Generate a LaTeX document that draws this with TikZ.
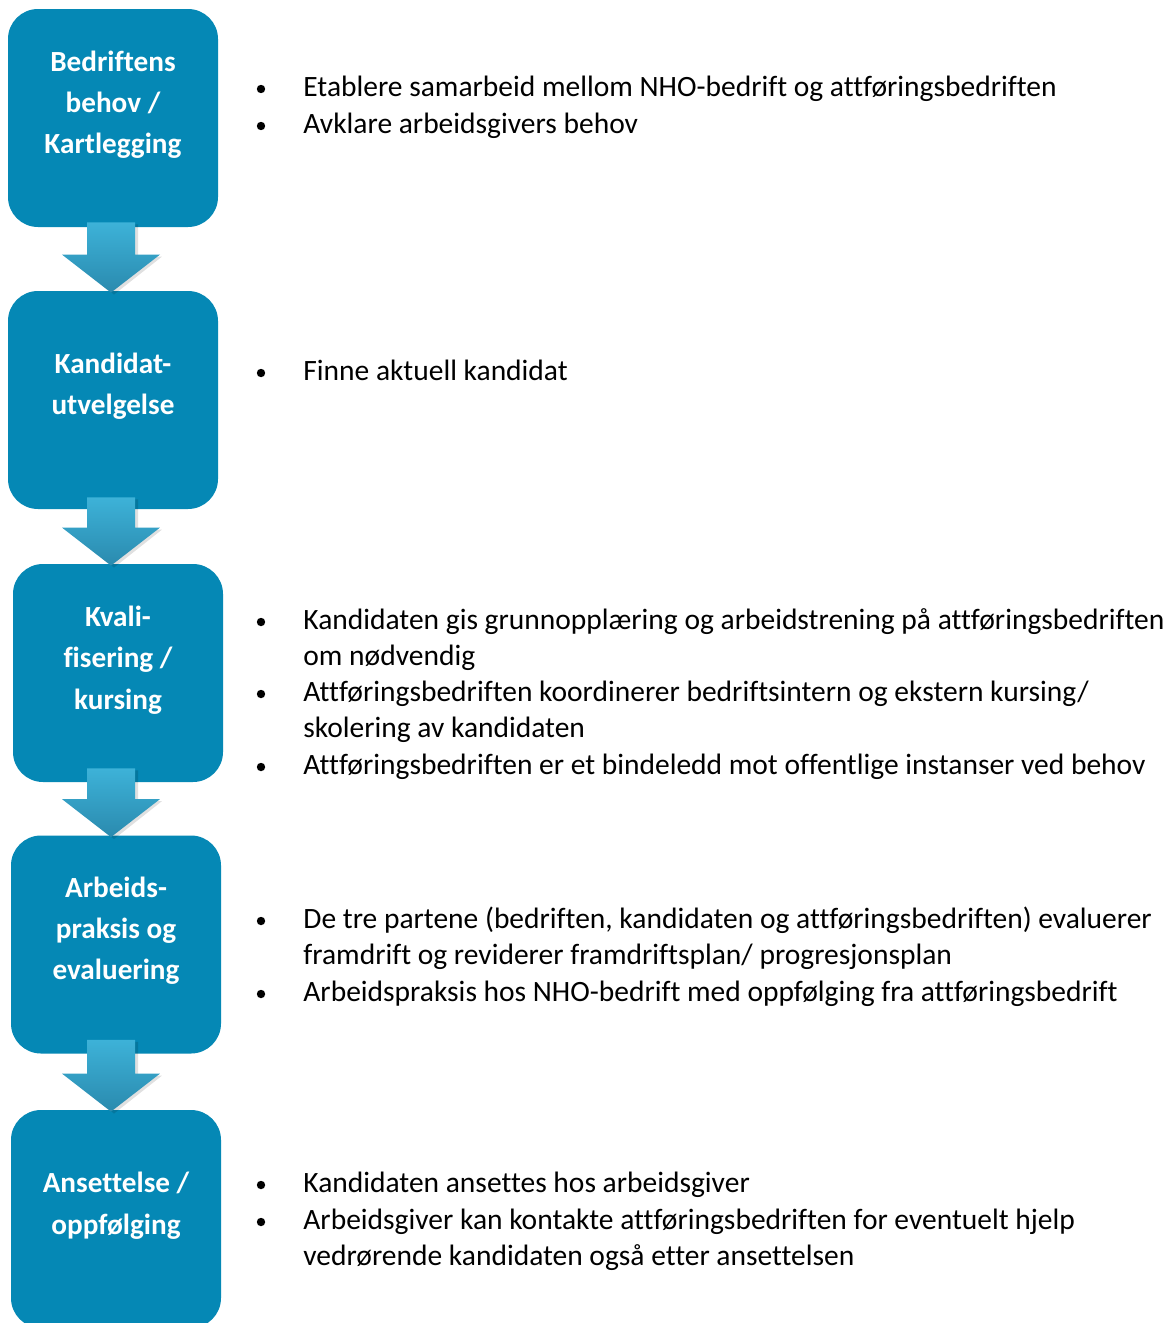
\documentclass[tikz,border=0pt]{standalone}
\usepackage{fontspec}
\setmainfont[Ligatures=NoCommon]{Carlito}
\usetikzlibrary{calc}
\definecolor{boxblue}{HTML}{0588B5}
\definecolor{arrtop}{HTML}{3DB2D8}
\definecolor{arrbot}{HTML}{2A8AAE}
\definecolor{arcblue}{HTML}{A9D8EA}
\tikzset{
  stepbox/.style={rectangle, rounded corners=15pt, fill=boxblue, minimum width=105pt, minimum height=109pt, inner sep=0pt},
  boxtext/.style={text=white, font=\fontsize{14.6}{17}\selectfont\bfseries, anchor=base, inner sep=0pt},
  bodytext/.style={font=\fontsize{14.75}{17}\selectfont, anchor=base west, inner sep=0pt},
  bul/.style={circle, fill=black, inner sep=0pt, minimum size=4.2pt},
}
% #1 upper box, #2 lower box, #3 shaft top offset (px, up from box bottom)
\newcommand\blockarrow[3]{%
  \fill[black, opacity=0.12] ($(#1.south -| ax)+(-21,-#3+2)$) -- ($(#1.south -| ax)+(27,-#3+2)$) -- ($(#2.north -| ax)+(27,-34)$) -- ($(#2.north -| ax)+(51,-34)$) -- ($(#2.north -| ax)+(3,4)$) -- ($(#2.north -| ax)+(-45,-34)$) -- ($(#2.north -| ax)+(-21,-34)$) -- cycle;
  \shade[top color=arrtop, bottom color=arrbot] ($(#1.south -| ax)+(-24,-#3)$) -- ($(#1.south -| ax)+(24,-#3)$) -- ($(#2.north -| ax)+(24,-36)$) -- ($(#2.north -| ax)+(49,-36)$) -- ($(#2.north -| ax)+(0,2)$) -- ($(#2.north -| ax)+(-49,-36)$) -- ($(#2.north -| ax)+(-24,-36)$) -- cycle;
}
\begin{document}
\begin{tikzpicture}[x=0.5pt, y=-0.5pt]
\useasboundingbox (0,0) rectangle (1169,1323);
\clip (0,0) rectangle (1169,1323);
\fill[white] (0,0) rectangle (1169,1323);
\coordinate (ax) at (111,0);
% decorative arc top right
\draw[arcblue, line width=1.3pt] (1074,-6) arc[start angle=180, end angle=360, x radius=46, y radius=12];
% boxes
\node[stepbox] (b1) at (113,118) {};
\node[stepbox] (b2) at (113,400) {};
\node[stepbox] (b3) at (118,673) {};
\node[stepbox] (b4) at (116,944.5) {};
\node[stepbox] (b5) at (116,1219) {};
% arrows
\blockarrow{b1}{b2}{5}
\blockarrow{b2}{b3}{12}
\blockarrow{b3}{b4}{14}
\blockarrow{b4}{b5}{14}
% box texts
\node[boxtext] (t1a) at (113,71) {Bedriftens};
\node[boxtext] (t1b) at (113,112) {behov /};
\node[boxtext] (t1c) at (113,153) {Kartlegging};
\node[boxtext] (t2a) at (113,373) {Kandidat-};
\node[boxtext] (t2b) at (113,414) {utvelgelse};
\node[boxtext] (t3a) at (118,626) {Kvali-};
\node[boxtext] (t3b) at (118,667) {fisering /};
\node[boxtext] (t3c) at (118,709) {kursing};
\node[boxtext] (t4a) at (116,897) {Arbeids-};
\node[boxtext] (t4b) at (116,938) {praksis og};
\node[boxtext] (t4c) at (116,979) {evaluering};
\node[boxtext] (t5a) at (116,1192) {Ansettelse /};
\node[boxtext] (t5b) at (116,1234) {oppfølging};
% bullets and texts
\node[bul] (p1) at (261,89) {};
\node[bodytext] (l1) at (303,96) {Etablere samarbeid mellom NHO-bedrift og attføringsbedriften};
\node[bul] (p2) at (261,126) {};
\node[bodytext] (l2) at (303,133) {Avklare arbeidsgivers behov};
\node[bul] (p3) at (261,373) {};
\node[bodytext] (l3) at (303,380) {Finne aktuell kandidat};
\node[bul] (p4) at (261,622) {};
\node[bodytext] (l4) at (303,629) {Kandidaten gis grunnopplæring og arbeidstrening på attføringsbedriften};
\node[bodytext] (l4b) at (303,665) {om nødvendig};
\node[bul] (p5) at (261,694) {};
\node[bodytext] (l5) at (303,701) {Attføringsbedriften koordinerer bedriftsintern og ekstern kursing/};
\node[bodytext] (l5b) at (303,737) {skolering av kandidaten};
\node[bul] (p6) at (261,767) {};
\node[bodytext] (l6) at (303,774) {Attføringsbedriften er et bindeledd mot offentlige instanser ved behov};
\node[bul] (p7) at (261,921) {};
\node[bodytext] (l7) at (303,928) {De tre partene (bedriften, kandidaten og attføringsbedriften) evaluerer};
\node[bodytext] (l7b) at (303,964) {framdrift og reviderer framdriftsplan/ progresjonsplan};
\node[bul] (p8) at (261,994) {};
\node[bodytext] (l8) at (303,1001) {Arbeidspraksis hos NHO-bedrift med oppfølging fra attføringsbedrift};
\node[bul] (p9) at (261,1185) {};
\node[bodytext] (l9) at (303,1192) {Kandidaten ansettes hos arbeidsgiver};
\node[bul] (p10) at (261,1222) {};
\node[bodytext] (l10) at (303,1229) {Arbeidsgiver kan kontakte attføringsbedriften for eventuelt hjelp};
\node[bodytext] (l10b) at (303,1265) {vedrørende kandidaten også etter ansettelsen};
\end{tikzpicture}
\end{document}
